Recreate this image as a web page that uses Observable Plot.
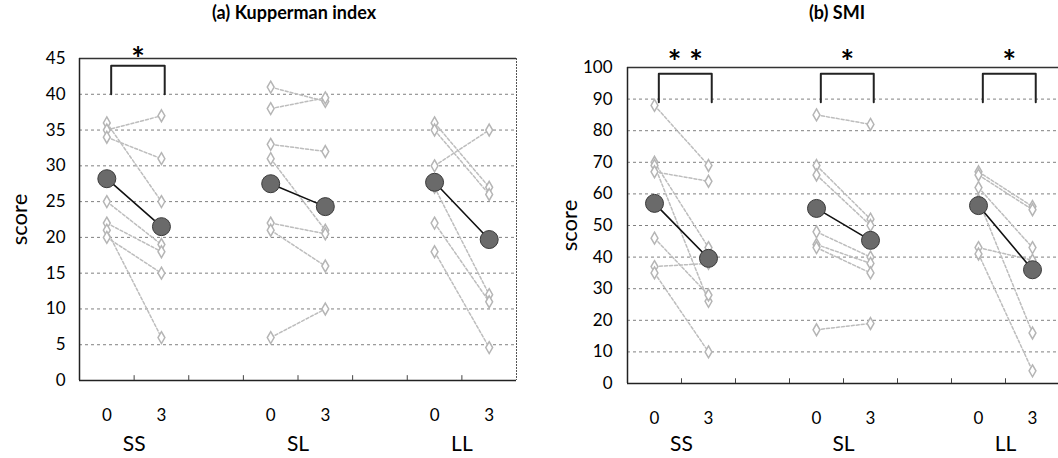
<!DOCTYPE html>
<html><head><meta charset="utf-8">
<script src="https://cdn.jsdelivr.net/npm/d3@7"></script>
<script src="https://cdn.jsdelivr.net/npm/@observablehq/plot@0.6"></script>
<style>
body{margin:0;background:#fff;}
#wrap{position:relative;width:1058px;height:458px;overflow:hidden;font-family:Lato, sans-serif;background:#fff;}
.title{position:absolute;top:1px;font-weight:bold;font-size:18px;transform:translateX(-50%);white-space:nowrap;color:#000;}
.panel{position:absolute;top:0;}
</style></head><body>
<div id="wrap"></div>
<script>
// categories
const groups = ["SS", "SL", "LL"];
const timeLabels = ["0", "3"];

// (a) Kupperman index
const kupTitle = "(a) Kupperman index";
const kupTicks = [0, 5, 10, 15, 20, 25, 30, 35, 40, 45];
const kupSSBefore = [36, 35, 34, 25, 22, 21, 20];
const kupSSAfter  = [25, 37, 31, 19, 18, 6, 15];
const kupSLBefore = [41, 38, 33, 31, 22, 21, 6];
const kupSLAfter  = [39, 39.5, 32, 21, 20.5, 16, 10];
const kupLLBefore = [36, 35, 30, 27, 22, 18];
const kupLLAfter  = [27, 26, 35, 12, 11, 4.6];
const kupMeanBefore = [28.2, 27.5, 27.7];
const kupMeanAfter  = [21.5, 24.3, 19.7];
const kupSig = ["*", "", ""];
const kupBracket = [40, 44];

// (b) SMI
const smiTitle = "(b) SMI";
const smiTicks = [0, 10, 20, 30, 40, 50, 60, 70, 80, 90, 100];
const smiSSBefore = [88, 70, 69, 67, 46, 37, 35];
const smiSSAfter  = [69, 43, 26, 64, 28, 38, 10];
const smiSLBefore = [85, 69, 66, 48, 44, 43, 17];
const smiSLAfter  = [82, 52, 50, 40, 38, 35, 19];
const smiLLBefore = [67, 66, 62, 58, 43, 41];
const smiLLAfter  = [56, 55, 43, 16, 39, 4];
const smiMeanBefore = [57.0, 55.4, 56.3];
const smiMeanAfter  = [39.6, 45.3, 36.0];
const smiSig = ["* *", "*", "*"];
const smiBracket = [89, 98];

function subjectRows(before, after) {
  const rows = [];
  groups.forEach((g, gi) => {
    before[gi].forEach((v, i) => {
      const id = g + "-" + i;
      rows.push({id, slot: gi * 3, value: v});
      rows.push({id, slot: gi * 3 + 1, value: after[gi][i]});
    });
  });
  return rows;
}

function makePanel(o) {
  const subj = subjectRows(o.before, o.after);
  const means = [];
  groups.forEach((g, gi) => {
    means.push({group: g, slot: gi * 3, value: o.meanBefore[gi]});
    means.push({group: g, slot: gi * 3 + 1, value: o.meanAfter[gi]});
  });
  const brackets = [];
  o.sig.forEach((s, gi) => {
    if (!s) return;
    const a = gi * 3 + 0.08, b = gi * 3 + 1.06;
    brackets.push({id: gi, slot: a, value: o.bracket[0]}, {id: gi, slot: a, value: o.bracket[1]},
                  {id: gi, slot: b, value: o.bracket[1]}, {id: gi, slot: b, value: o.bracket[0]});
  });
  const stars = o.sig.map((s, gi) => ({slot: gi * 3 + 0.57, label: s})).filter(d => d.label);
  const slots = groups.flatMap((g, gi) => [gi * 3, gi * 3 + 1]);
  const groupCenters = groups.map((g, gi) => gi * 3 + 0.5);
  const bounds = d3.range(0.5, 7, 1);
  const yMax = o.ticks[o.ticks.length - 1];
  return Plot.plot({
    width: o.width, height: 458,
    marginLeft: o.ml, marginRight: o.mr, marginTop: o.mt, marginBottom: o.mb,
    style: {fontFamily: "Lato, sans-serif", color: "#000", background: "transparent", overflow: "visible"},
    x: {domain: [-0.5, 7.5]},
    y: {domain: [0, yMax]},
    marks: [
      Plot.gridY(o.ticks.filter(t => t > 0 && t < yMax), {stroke: "#808080", strokeOpacity: 1, strokeDasharray: "3,3"}),
      Plot.ruleY([0], {stroke: "#222", strokeWidth: 1.5}),
      Plot.ruleY([yMax], {stroke: "#333", strokeWidth: 1.5}),
      Plot.ruleX([-0.5], {stroke: "#222", strokeWidth: 1.5}),
      Plot.ruleX([7.5], {stroke: "#555", strokeDasharray: "2,1"}),
      Plot.ruleX(bounds, {y1: 0, y2: yMax * 0.015, stroke: "#444"}),
      Plot.line(subj, {x: "slot", y: "value", z: "id", stroke: "#bdbdbd", strokeDasharray: "3,2"}),
      Plot.dot(subj, {x: "slot", y: "value", symbol: "diamond", r: 3.6, stroke: "#b5b5b5", fill: "white"}),
      Plot.line(means, {x: "slot", y: "value", z: "group", stroke: "#111", strokeWidth: 1.6}),
      Plot.dot(means, {x: "slot", y: "value", r: 9, fill: "#6a6a6a", stroke: "#3a3a3a", strokeWidth: 1}),
      Plot.line(brackets, {x: "slot", y: "value", z: "id", stroke: "#222", strokeWidth: 2}),
      Plot.text(stars, {x: "slot", y: () => yMax, text: "label", fontSize: 32, fontWeight: "bold", dy: o.starDy, lineAnchor: "middle"}),
      Plot.axisY({ticks: o.ticks, tickSize: 0, tickPadding: o.yPad, fontSize: 17, label: null}),
      Plot.axisX({ticks: slots, tickSize: 0, tickPadding: 28, fontSize: 17, label: null, tickFormat: d => timeLabels[d % 3]}),
      Plot.axisX({ticks: groupCenters, tickSize: 0, tickPadding: o.gPad, fontSize: 21, label: null, tickFormat: d => groups[Math.floor(d / 3)]}),
      Plot.text(["score"], {frameAnchor: "left", text: d => d, rotate: -90, fontSize: 22, dx: o.scoreDx, textAnchor: "middle", lineAnchor: "middle"})
    ]
  });
}

const wrap = document.getElementById("wrap");

const pa = makePanel({
  width: 540, ml: 79, mr: 24, mt: 58, mb: 78, ticks: kupTicks, yPad: 14, gPad: 56, scoreDx: -60,
  before: [kupSSBefore, kupSLBefore, kupLLBefore], after: [kupSSAfter, kupSLAfter, kupLLAfter],
  meanBefore: kupMeanBefore, meanAfter: kupMeanAfter, sig: kupSig, bracket: kupBracket, starDy: 2
});
pa.classList.add("panel"); pa.style.left = "0px";
wrap.appendChild(pa);

const pb = makePanel({
  width: 519, ml: 87, mr: 0, mt: 67, mb: 75, ticks: smiTicks, yPad: 15, gPad: 53, scoreDx: -58,
  before: [smiSSBefore, smiSLBefore, smiLLBefore], after: [smiSSAfter, smiSLAfter, smiLLAfter],
  meanBefore: smiMeanBefore, meanAfter: smiMeanAfter, sig: smiSig, bracket: smiBracket, starDy: -4
});
pb.classList.add("panel"); pb.style.left = "540px";
wrap.appendChild(pb);

const ta = document.createElement("div"); ta.className = "title"; ta.style.left = "294px"; ta.textContent = kupTitle; wrap.appendChild(ta);
const tb = document.createElement("div"); tb.className = "title"; tb.style.left = "837px"; tb.textContent = smiTitle; wrap.appendChild(tb);
</script>
</body></html>
